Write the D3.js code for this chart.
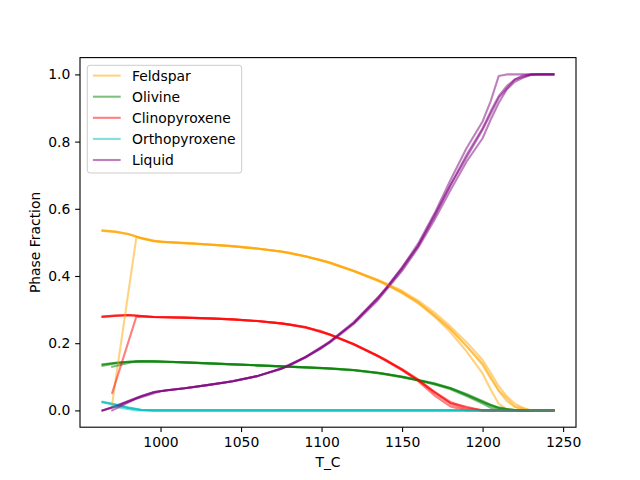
<!doctype html>
<meta charset="utf-8">
<body style="margin:0">

<div id="chart"></div>

<script src="https://d3js.org/d3.v7.min.js"></script>
<script>

// phase names and colours (legend order)
const phases = ["Feldspar", "Olivine", "Clinopyroxene", "Orthopyroxene", "Liquid"]
const colors = ["#ffa500", "#008000", "#ff0000", "#00bfbf", "#800080"]

// temperature grid shared by the three main runs
const tempMain = [964, 972, 980, 988, 996, 1004, 1015, 1030, 1045, 1060, 1075, 1090, 1105, 1120, 1135,
  1150, 1160, 1170, 1180, 1190, 1200, 1205, 1210, 1215, 1220, 1225, 1230, 1235, 1244]

// run A
const feldsparA = [0.536, 0.532, 0.525, 0.513, 0.504, 0.501, 0.498, 0.494, 0.489, 0.482, 0.473, 0.459, 0.440, 0.415, 0.387,
  0.353, 0.322, 0.285, 0.242, 0.192, 0.135, 0.095, 0.058, 0.028, 0.010, 0.002, 0, 0, 0]
const olivineA = [0.137, 0.142, 0.145, 0.146, 0.146, 0.145, 0.143, 0.140, 0.137, 0.134, 0.131, 0.128, 0.125, 0.120, 0.112,
  0.100, 0.090, 0.080, 0.066, 0.047, 0.025, 0.014, 0.007, 0.003, 0.001, 0, 0, 0, 0]
const cpxA = [0.279, 0.282, 0.284, 0.281, 0.278, 0.277, 0.276, 0.274, 0.271, 0.266, 0.259, 0.248, 0.226, 0.197, 0.162,
  0.122, 0.090, 0.052, 0.020, 0.003, 0, 0, 0, 0, 0, 0, 0, 0, 0]
const opxA = [0.025, 0.017, 0.008, 0.001, 0, 0, 0, 0, 0, 0, 0, 0, 0, 0, 0,
  0, 0, 0, 0, 0, 0, 0, 0, 0, 0, 0, 0, 0, 0]
const liquidA = [0, 0.012, 0.027, 0.042, 0.055, 0.060, 0.066, 0.076, 0.087, 0.102, 0.124, 0.158, 0.203, 0.260, 0.332,
  0.420, 0.490, 0.575, 0.670, 0.760, 0.840, 0.890, 0.935, 0.965, 0.985, 0.997, 1, 1, 1]

// run B
const feldsparB = [0.534, 0.531, 0.524, 0.512, 0.503, 0.500, 0.497, 0.493, 0.488, 0.481, 0.472, 0.458, 0.439, 0.414, 0.386,
  0.350, 0.318, 0.280, 0.233, 0.176, 0.110, 0.062, 0.020, 0.003, 0, 0, 0, 0, 0]
const olivineB = [0.133, 0.140, 0.144, 0.146, 0.146, 0.145, 0.143, 0.140, 0.137, 0.134, 0.131, 0.128, 0.124, 0.119, 0.111,
  0.099, 0.089, 0.078, 0.063, 0.043, 0.020, 0.008, 0.002, 0, 0, 0, 0, 0, 0]
const cpxB = [0.278, 0.281, 0.283, 0.281, 0.278, 0.277, 0.276, 0.274, 0.271, 0.266, 0.259, 0.247, 0.225, 0.196, 0.161,
  0.120, 0.087, 0.045, 0.012, 0, 0, 0, 0, 0, 0, 0, 0, 0, 0]
const opxB = [0.024, 0.016, 0.007, 0.001, 0, 0, 0, 0, 0, 0, 0, 0, 0, 0, 0,
  0, 0, 0, 0, 0, 0, 0, 0, 0, 0, 0, 0, 0, 0]
const liquidB = [0, 0.013, 0.028, 0.043, 0.055, 0.060, 0.066, 0.076, 0.087, 0.102, 0.125, 0.159, 0.205, 0.263, 0.335,
  0.425, 0.497, 0.585, 0.685, 0.780, 0.860, 0.920, 0.995, 1, 1, 1, 1, 1, 1]

// run C
const feldsparC = [0.535, 0.532, 0.525, 0.513, 0.504, 0.501, 0.498, 0.494, 0.489, 0.482, 0.473, 0.459, 0.441, 0.416, 0.389,
  0.356, 0.327, 0.292, 0.250, 0.203, 0.150, 0.112, 0.072, 0.042, 0.020, 0.008, 0, 0, 0]
const olivineC = [0.136, 0.141, 0.145, 0.146, 0.146, 0.145, 0.143, 0.140, 0.137, 0.134, 0.131, 0.128, 0.125, 0.120, 0.112,
  0.101, 0.091, 0.081, 0.067, 0.049, 0.028, 0.017, 0.009, 0.004, 0.001, 0, 0, 0, 0]
const cpxC = [0.279, 0.282, 0.284, 0.281, 0.278, 0.277, 0.276, 0.274, 0.271, 0.266, 0.259, 0.248, 0.227, 0.198, 0.163,
  0.123, 0.092, 0.055, 0.025, 0.008, 0, 0, 0, 0, 0, 0, 0, 0, 0]
const opxC = [0.026, 0.018, 0.009, 0.002, 0, 0, 0, 0, 0, 0, 0, 0, 0, 0, 0,
  0, 0, 0, 0, 0, 0, 0, 0, 0, 0, 0, 0, 0, 0]
const liquidC = [0, 0.011, 0.026, 0.041, 0.054, 0.060, 0.066, 0.076, 0.087, 0.102, 0.123, 0.157, 0.201, 0.257, 0.328,
  0.415, 0.484, 0.566, 0.655, 0.740, 0.810, 0.865, 0.915, 0.955, 0.978, 0.990, 0.998, 1, 1]

// run D starts later and jumps
const tempD = [970, 985, 1000, 1020, 1040, 1060, 1080, 1100, 1120, 1140, 1160, 1180, 1200, 1210, 1220, 1230, 1244]
const feldsparD = [0.02, 0.515, 0.502, 0.497, 0.491, 0.482, 0.470, 0.447, 0.415, 0.376, 0.322, 0.242, 0.140, 0.060, 0.012, 0, 0]
const olivineD = [0.13, 0.146, 0.145, 0.142, 0.138, 0.134, 0.130, 0.126, 0.120, 0.108, 0.090, 0.066, 0.025, 0.007, 0.001, 0, 0]
const cpxD = [0.052, 0.279, 0.277, 0.275, 0.272, 0.266, 0.256, 0.236, 0.197, 0.150, 0.090, 0.022, 0, 0, 0, 0, 0]
const opxD = [0.012, 0, 0, 0, 0, 0, 0, 0, 0, 0, 0, 0, 0, 0, 0, 0, 0]
const liquidD = [0, 0.035, 0.057, 0.069, 0.083, 0.102, 0.133, 0.185, 0.260, 0.362, 0.490, 0.670, 0.835, 0.930, 0.985, 1, 1]

const runs = [
  { temp: tempMain, values: [feldsparA, olivineA, cpxA, opxA, liquidA] },
  { temp: tempMain, values: [feldsparB, olivineB, cpxB, opxB, liquidB] },
  { temp: tempMain, values: [feldsparC, olivineC, cpxC, opxC, liquidC] },
  { temp: tempD, values: [feldsparD, olivineD, cpxD, opxD, liquidD] }
]

const margin = { top: 57.6, right: 64, bottom: 52.8, left: 80 }
const width = 640 - margin.left - margin.right
const height = 480 - margin.top - margin.bottom

const svg = d3.select("#chart").append("svg")
  .attr("width", 640)
  .attr("height", 480)
  .style("font-family", "DejaVu Sans")

const g = svg.append("g")
  .attr("transform", "translate(" + margin.left + "," + margin.top + ")")

const allT = runs.flatMap(r => r.temp)
const [tMin, tMax] = d3.extent(allT)
const tPad = (tMax - tMin) * 0.05

const x = d3.scaleLinear()
  .domain([tMin - tPad, tMax + tPad])
  .range([0, width])

const y = d3.scaleLinear()
  .domain([-0.05, 1.05])
  .range([height, 0])

const line = d3.line()
  .x(d => x(d[0]))
  .y(d => y(d[1]))

runs.forEach(run => {
  run.values.forEach((vals, i) => {
    g.append("path")
      .datum(run.temp.map((t, j) => [t, vals[j]]))
      .attr("d", line)
      .attr("fill", "none")
      .attr("stroke", colors[i])
      .attr("stroke-opacity", 0.5)
      .attr("stroke-width", 2.08)
      .attr("stroke-linejoin", "round")
      .attr("stroke-linecap", "square")
  })
})

// axes
const xAxis = g.append("g")
  .attr("transform", "translate(0," + height + ")")
  .call(d3.axisBottom(x).tickValues([1000, 1050, 1100, 1150, 1200, 1250]).tickFormat(d3.format("d")).tickSize(4.86).tickPadding(4.86))

const yAxis = g.append("g")
  .call(d3.axisLeft(y).tickValues([0, 0.2, 0.4, 0.6, 0.8, 1.0]).tickFormat(d3.format(".1f")).tickSize(4.86).tickPadding(4.86))

;[xAxis, yAxis].forEach(a => {
  a.select(".domain").remove()
  a.selectAll("line").attr("stroke", "#000").attr("stroke-width", 1.1)
  a.selectAll("text").attr("font-size", 13.9).attr("font-family", "DejaVu Sans").attr("fill", "#000")
})

g.append("rect")
  .attr("width", width)
  .attr("height", height)
  .attr("fill", "none")
  .attr("stroke", "#000")
  .attr("stroke-width", 1.1)

svg.append("text")
  .attr("x", margin.left + width / 2)
  .attr("y", 467)
  .attr("text-anchor", "middle")
  .attr("font-size", 13.9)
  .text("T_C")

svg.append("text")
  .attr("transform", "translate(39.5," + (margin.top + height / 2) + ") rotate(-90)")
  .attr("text-anchor", "middle")
  .attr("font-size", 13.9)
  .text("Phase Fraction")

// legend
const legend = svg.append("g")
  .attr("transform", "translate(87.3,65.3)")

legend.append("rect")
  .attr("width", 154.4)
  .attr("height", 107.7)
  .attr("rx", 2.8)
  .attr("fill", "#fff")
  .attr("fill-opacity", 0.8)
  .attr("stroke", "#cccccc")
  .attr("stroke-width", 1)

phases.forEach((name, i) => {
  const yy = 10.3 + i * 21.1
  legend.append("line")
    .attr("x1", 5.6)
    .attr("x2", 33.4)
    .attr("y1", yy)
    .attr("y2", yy)
    .attr("stroke", colors[i])
    .attr("stroke-opacity", 0.5)
    .attr("stroke-width", 2.08)
  legend.append("text")
    .attr("x", 44.7)
    .attr("y", yy + 5)
    .attr("font-size", 13.9)
    .text(name)
})

</script>
</body>
